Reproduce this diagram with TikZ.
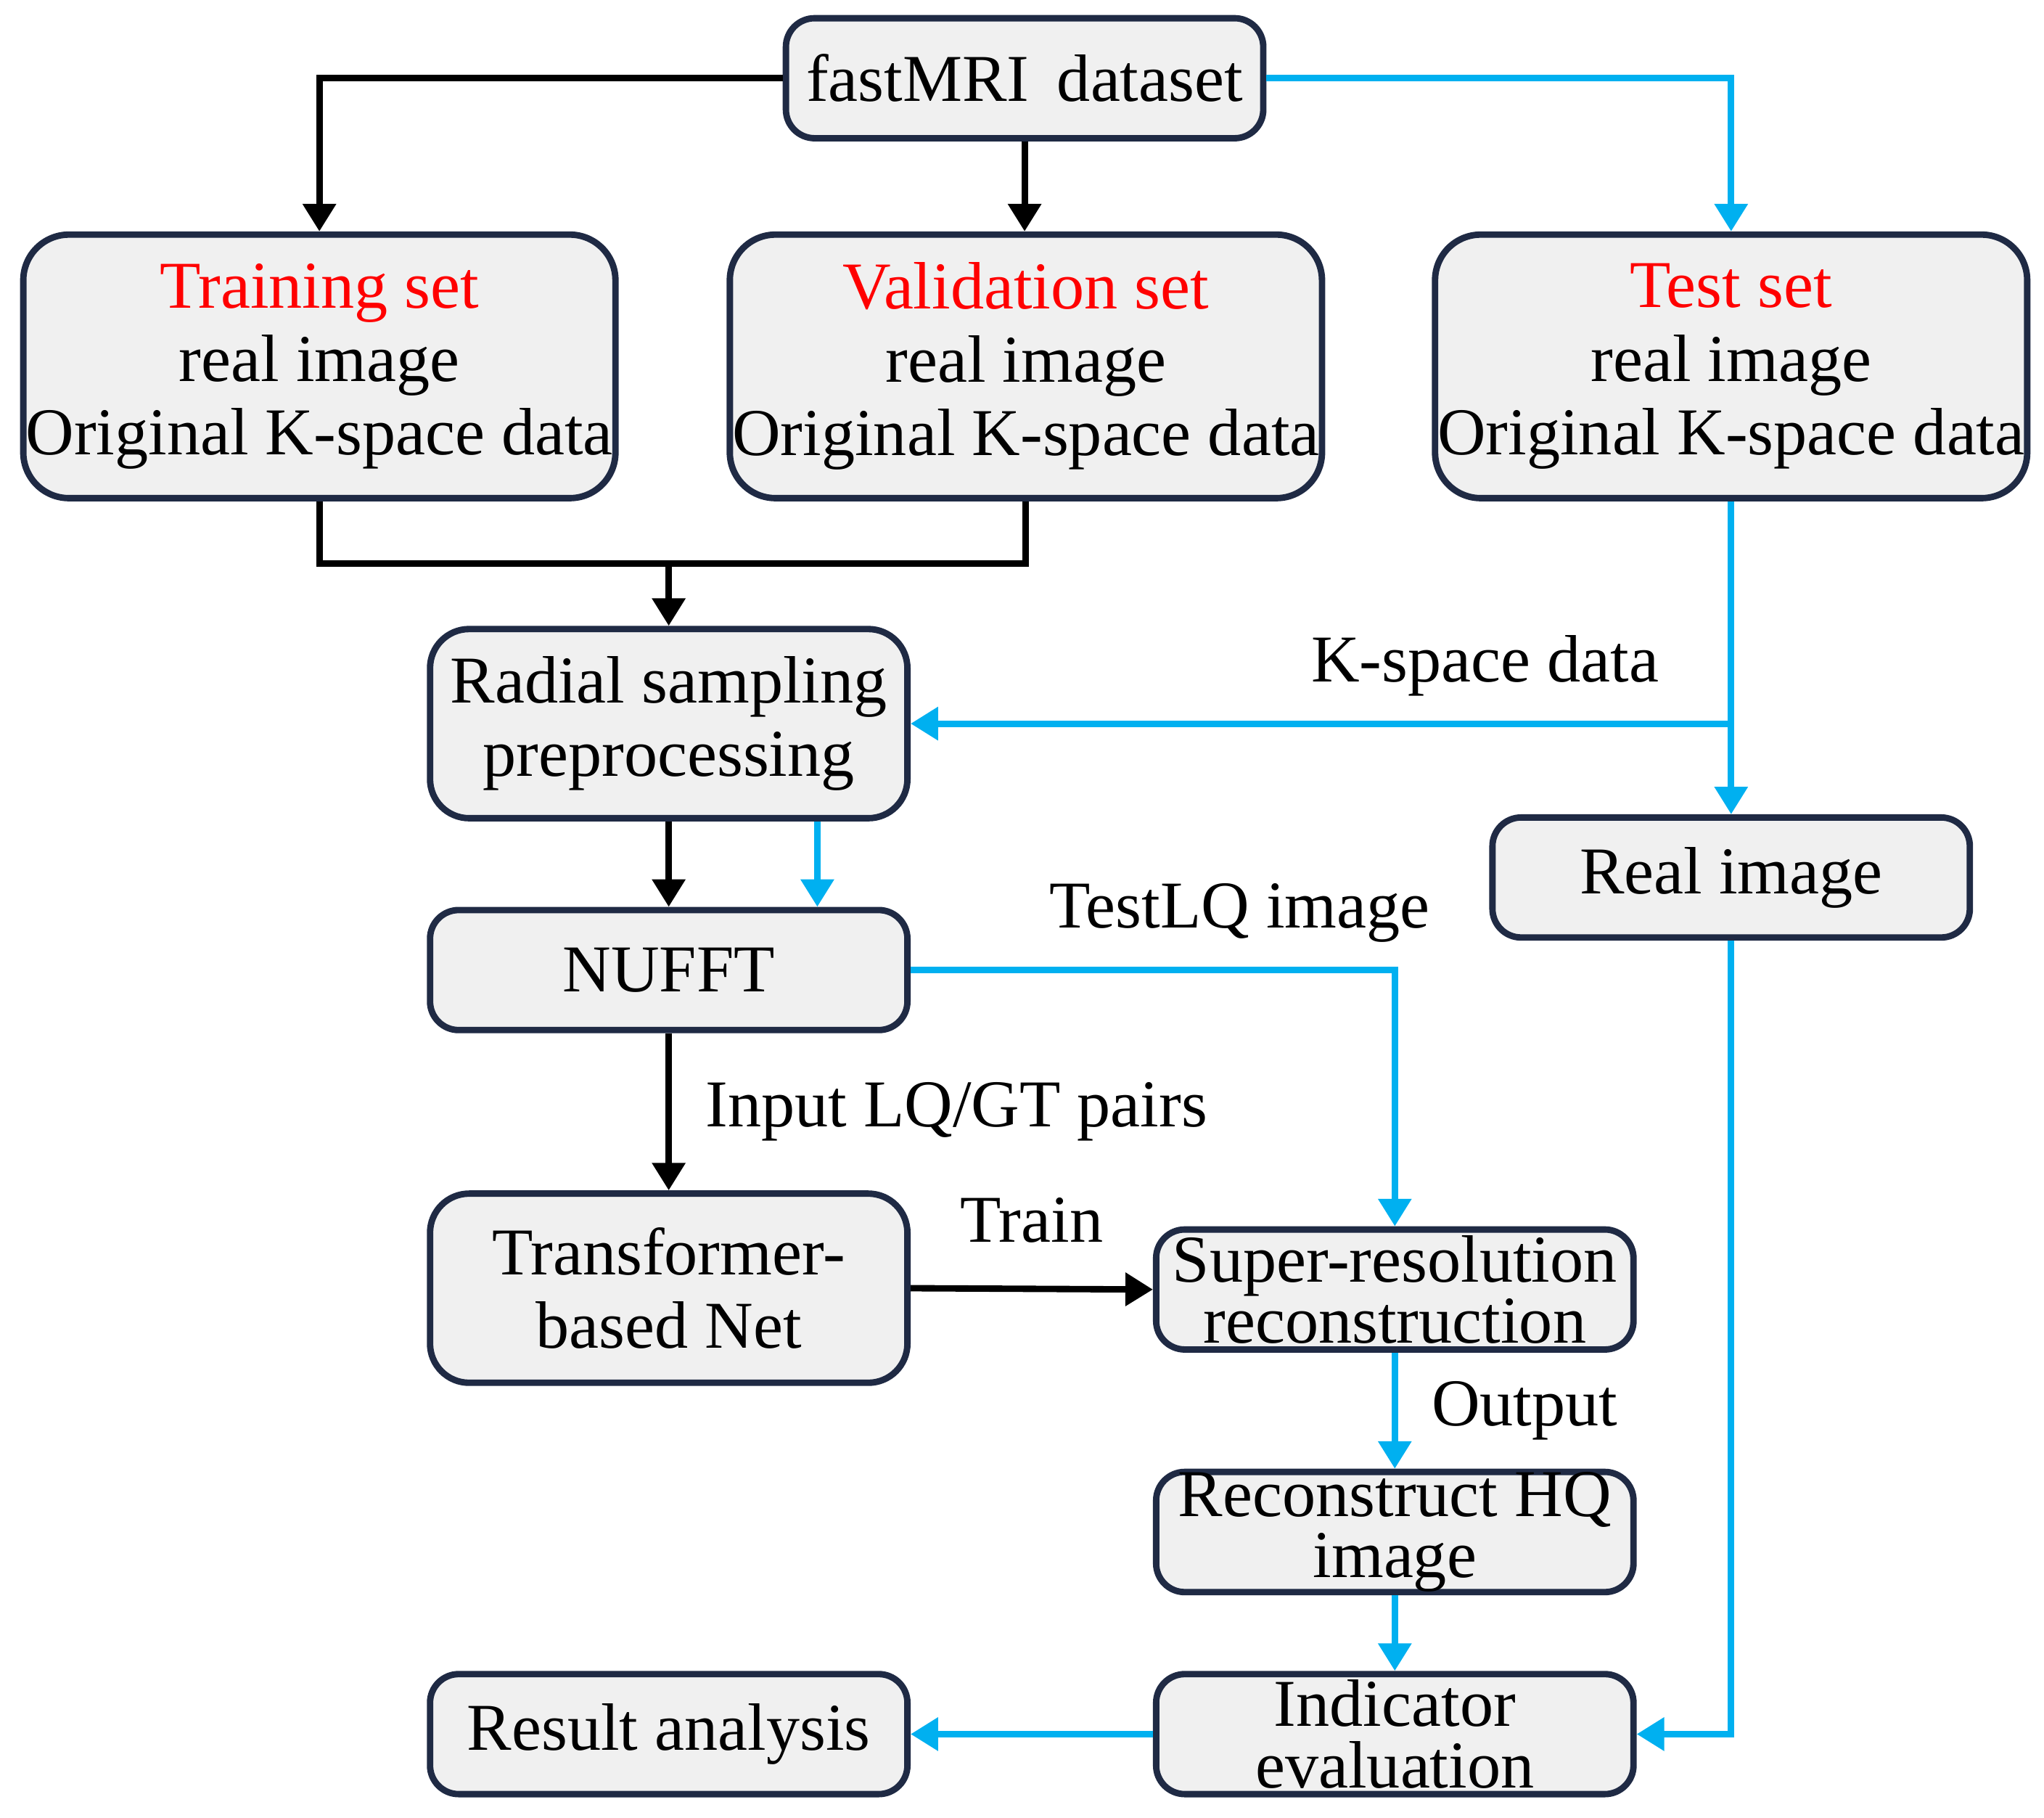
\documentclass[tikz,border=0pt]{standalone}
\usepackage{fontspec}
\setmainfont{Liberation Serif}
\usetikzlibrary{arrows.meta,positioning}
\definecolor{boxline}{HTML}{1F2A44}
\definecolor{boxfill}{HTML}{F0F0F0}
\definecolor{testblue}{HTML}{00B0F0}
\begin{document}
\begin{tikzpicture}[x=0.01cm,y=-0.01cm,
		box/.style={draw=boxline,fill=boxfill,line width=1.4pt,rounded corners=0.22cm,
			align=center,inner sep=0pt,font=\fontsize{14.6}{16}\selectfont},
		bigbox/.style={box,minimum width=4.54cm,minimum height=2.02cm,rounded corners=0.35cm},
		midbox/.style={box,minimum width=3.66cm,minimum height=1.45cm,rounded corners=0.3cm},
		smallbox/.style={box,minimum width=3.66cm,minimum height=0.92cm},
		tight/.style={font=\fontsize{14.6}{13.4}\selectfont},
		blk/.style={line width=1.4pt,-{Triangle[length=6pt,width=7pt]}},
		blu/.style={blk,draw=testblue,color=testblue},
		lbl/.style={font=\fontsize{14.6}{16}\selectfont}]
		\useasboundingbox (0,0) rectangle (1568,1394);
		
		\node[smallbox] (data) at (786,60) {fastMRI\, dataset};
		\node[bigbox] (train) at (245,281) {\textcolor{red}{Training set}\\real image\\Original K-space data};
		\node[bigbox] (valid) at (787,281) {\textcolor{red}{Validation set}\\real image\\Original K-space data};
		\node[bigbox] (test) at (1328,281) {\textcolor{red}{Test set}\\real image\\Original K-space data};
		\node[midbox] (radial) at (513,555) {Radial sampling\\preprocessing};
		\node[smallbox] (real) at (1328,673) {Real image};
		\node[smallbox] (nufft) at (513,744) {NUFFT};
		\node[midbox] (trans) at (513,988) {Transformer-\\based Net};
		\node[smallbox,tight] (super) at (1070,989) {Super-resolution\\reconstruction};
		\node[smallbox,tight] (recon) at (1070,1175) {Reconstruct HQ\\image};
		\node[smallbox,tight] (indic) at (1070,1330) {Indicator\\evaluation};
		\node[smallbox] (result) at (513,1330) {Result analysis};
		
		\coordinate (merge) at (513,432);
		\coordinate (split) at (1328,555);
		
		% black paths
		\draw[blk] (data.west) -| (train.north);
		\draw[blk] (data.south) -- (data.south |- valid.north);
		\draw[line width=1.4pt] (train.south) |- (merge) -| (valid.south);
		\draw[blk] (merge) -- (radial.north);
		\draw[blk] (radial.south) -- (nufft.north);
		\draw[blk] (nufft.south) -- node[lbl,right=4pt] {Input LQ/GT pairs} (trans.north);
		\draw[blk] (trans.east) -- node[lbl,above=6pt] {Train} (super.west);
		
		% blue paths
		\draw[blu] (data.east) -| (test.north);
		\draw[line width=1.4pt,testblue] (test.south) -- (split);
		\draw[blu] (split) -- node[lbl,above=2pt,black,pos=0.3] {K-space data} (radial.east);
		\draw[blu] (split) -- (real.north);
		\draw[blu] (radial.south -| 627,0) -- (nufft.north -| 627,0);
		\draw[blu] (nufft.east) -| node[lbl,above=2pt,black,pos=0.34] {TestLQ image} (super.north);
		\draw[blu] (super.south) -- node[lbl,right=4pt,black] {Output} (recon.north);
		\draw[blu] (recon.south) -- (indic.north);
		\draw[blu] (real.south) |- (indic.east);
		\draw[blu] (indic.west) -- (result.east);
\end{tikzpicture}
\end{document}
